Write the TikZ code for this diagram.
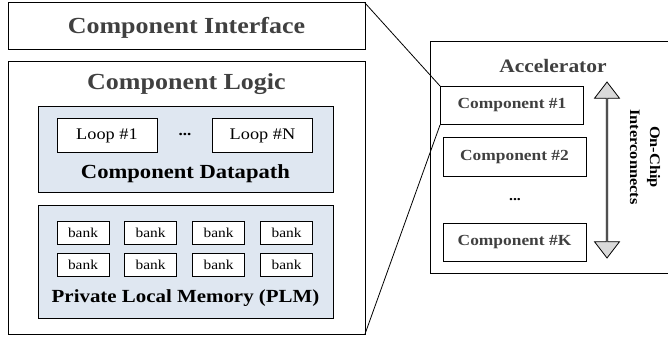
\documentclass[tikz,border=0pt]{standalone}
\usepackage{fontspec}
\setmainfont[FakeStretch=1.13]{Liberation Serif}
\usetikzlibrary{shapes.arrows,positioning}
\definecolor{txtgray}{HTML}{404040}
\definecolor{bluefill}{HTML}{DFE7F1}
\definecolor{arrowfill}{HTML}{D9D9D9}
\tikzset{
  frame/.style={draw=black,line width=1pt},
  panel/.style={draw=black,line width=1pt,fill=bluefill},
  loopbox/.style={draw=black,line width=1pt,fill=white,minimum width=100pt,minimum height=34pt,font=\fontsize{16.2}{16.2}\selectfont},
  bankbox/.style={draw=black,line width=1pt,fill=white,minimum width=52pt,minimum height=23pt,font=\fontsize{13.6}{13.6}\selectfont,inner sep=0pt},
  compbox/.style={draw=black,line width=1pt,fill=white,minimum width=143pt,minimum height=38pt,font=\fontsize{15.4}{15.4}\selectfont\bfseries,text=txtgray},
  bigtitle/.style={font=\fontsize{23}{23}\selectfont\bfseries,text=txtgray},
  paneltitle/.style={font=\fontsize{19}{19}\selectfont\bfseries},
  zoomline/.style={draw=black,line width=0.8pt},
}
\begin{document}
\begin{tikzpicture}[x=1pt,y=-1pt]
\useasboundingbox (0,0) rectangle (668,339);
% interface box
\draw[frame] (8,3) rectangle (365,50);
\node[bigtitle] (ititle) at (186.5,28) {Component Interface};
\coordinate (itr) at (365,3);
% logic box
\draw[frame] (8,62) rectangle (365,334);
\node[bigtitle] (ltitle) at (186.5,84) {Component Logic};
\coordinate (lbr) at (365,334);
% datapath
\draw[panel] (38,107) rectangle (333,192);
\node[loopbox] (loop1) at (107,136) {Loop \#1};
\node[loopbox] (loopn) at (262.5,136) {Loop \#N};
\node[font=\fontsize{15}{15}\selectfont\bfseries] (ldots) at (185,134) {...};
\node[paneltitle,font=\fontsize{20}{20}\selectfont\bfseries] (dtitle) at (185.5,174) {Component Datapath};
% PLM
\draw[panel] (38,205) rectangle (333,318);
\foreach \c/\x in {1/83,2/150.5,3/218.5,4/286.5}{
  \node[bankbox] (b1\c) at (\x,232.5) {bank};
  \node[bankbox] (b2\c) at (\x,265) {bank};
}
\node[paneltitle,font=\fontsize{18.5}{18.5}\selectfont\bfseries] (ptitle) at (185.5,298) {Private Local Memory (PLM)};
% accelerator
\draw[frame] (430,42) rectangle (672,273);
\node[font=\fontsize{19}{19}\selectfont\bfseries,text=txtgray] (atitle) at (553,66) {Accelerator};
\node[compbox] (c1) at (512,105.5) {Component \#1};
\node[compbox] (c2) at (514.5,157) {Component \#2};
\node[font=\fontsize{14}{14}\selectfont\bfseries] (cdots) at (515,200) {...};
\node[compbox] (ck) at (514.5,242) {Component \#K};
% zoom lines
\draw[zoomline] (itr) -- (c1.north west);
\draw[zoomline] (lbr) -- (c1.south west);
% interconnect arrow
\node[double arrow, draw=black, line width=0.8pt, fill=arrowfill,
      minimum width=25pt, minimum height=176pt, double arrow head extend=7pt,
      double arrow tip angle=75, rotate=90, inner sep=0pt] (arr) at (607,170) {};
\node[rotate=-90, align=center, font=\fontsize{14.5}{20}\selectfont\bfseries] (ictext) at (645,157) {On-Chip\\Interconnects};
\end{tikzpicture}
\end{document}
